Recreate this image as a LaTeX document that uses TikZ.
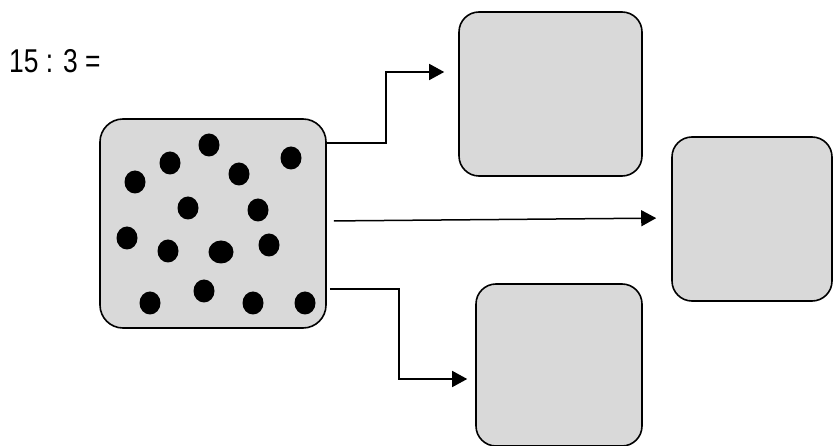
\documentclass[tikz,border=0pt]{standalone}
\usepackage{fontspec}
\setmainfont{Liberation Sans}
\usetikzlibrary{arrows.meta,calc,shapes.geometric}
\definecolor{boxgray}{RGB}{217,217,217}
\tikzset{
  box/.style={draw=black, line width=1.6pt, fill=boxgray, rectangle, rounded corners=20pt, inner sep=0pt},
  dot/.style={fill=black, ellipse, inner sep=0pt, minimum width=21pt, minimum height=23pt},
  arr/.style={draw=black, line width=1.5pt, -{Triangle[length=15pt,width=16pt]}}
}
\begin{document}
\begin{tikzpicture}[x=1pt,y=-1pt]
\useasboundingbox (0,0) rectangle (833,446);
\node[anchor=base west, inner sep=0pt, font=\fontsize{33}{38}\selectfont] (eq) at (9,73) {\scalebox{0.8}[1]{15 : 3 =}};
\node[box, rounded corners=23pt, minimum width=226pt, minimum height=209pt] (main) at (213,223.5) {};
\node[box, minimum width=183pt, minimum height=164pt] (top) at (550.5,94) {};
\node[box, minimum width=160pt, minimum height=164pt] (right) at (752,219) {};
\node[box, minimum width=166pt, minimum height=162pt] (bot) at (559,365) {};
% dots
\foreach \i/\x/\y in {1/209/145, 2/170/163, 3/239/174, 4/291/158, 5/135/182, 6/188/208, 7/258/210, 8/127/238, 9/168/251, 11/269/245, 12/204/291, 13/150/303, 14/253/303, 15/305/303}
  \node[dot] (d\i) at (\x,\y) {};
\node[dot, minimum width=25pt] (d10) at (221,252) {};
% connectors
\coordinate (e1) at (386,72);
\draw[arr, shorten >=14pt] (main.east |- 0,143) -| (e1) -- (top.west |- e1);
\draw[arr, shorten <=7pt, shorten >=15pt] (main.east |- 0,221) -- (right.west |- 0,218);
\coordinate (e3) at (399,379);
\draw[arr, shorten <=3pt, shorten >=8pt] (main.east |- 0,289) -| (e3) -- (bot.west |- e3);
\end{tikzpicture}
\end{document}
